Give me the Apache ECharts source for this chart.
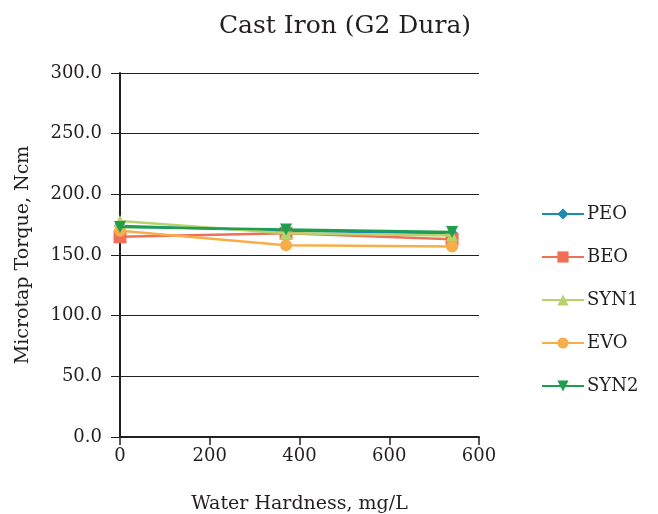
<!DOCTYPE html>
<html><head><meta charset="utf-8">
<script src="https://cdn.jsdelivr.net/npm/echarts@6/dist/echarts.min.js"></script>
<style>html,body{margin:0;padding:0;background:#fff}#c{width:658px;height:514px}</style>
</head><body><div id="c"></div>
<script>
const hardness = [0, 370, 740];
const xTickLabels = ['0', '200', '400', '600', '600'];
const PEO  = [174, 170, 168];
const BEO  = [165, 168, 163];
const SYN1 = [178, 168, 166];
const EVO  = [170, 158, 157];
const SYN2 = [173, 171, 169];
const seriesNames = ['PEO', 'BEO', 'SYN1', 'EVO', 'SYN2'];

const font = 'DejaVu Serif';
const txt = '#231f20';
const colors = ['#1b8bb0', '#ef6f57', '#b8d36b', '#f6ae4a', '#1f9e4f'];
const symbols = ['diamond', 'rect', 'triangle', 'circle', 'path://M0,0 L10,0 L5,9 Z'];
const dataSets = [PEO, BEO, SYN1, EVO, SYN2];

const chart = echarts.init(document.getElementById('c'));
chart.setOption({
  animation: false,
  backgroundColor: '#fff',
  title: {
    text: 'Cast Iron (G2 Dura)', left: 340, top: 9, textAlign: 'center',
    textStyle: { fontFamily: font, fontSize: 25, fontWeight: 'normal', color: txt }
  },
  legend: {
    orient: 'vertical', left: 536, top: 200, itemGap: 25,
    itemWidth: 42, itemHeight: 14,
    textStyle: { fontFamily: font, fontSize: 18, color: txt, padding: [0, 0, 0, -2] },
    data: seriesNames
  },
  grid: { left: 120, right: 179, top: 73, bottom: 77, containLabel: false, outerBoundsMode: 'none' },
  xAxis: {
    type: 'value', min: 0, max: 800, interval: 200,
    name: 'Water Hardness, mg/L', nameLocation: 'middle', nameGap: 58,
    nameTextStyle: { fontFamily: font, fontSize: 19, color: txt },
    axisLine: { onZero: false, lineStyle: { color: txt, width: 2 } },
    axisTick: { show: true, length: 8, lineStyle: { color: txt, width: 1.5 } },
    axisLabel: {
      fontFamily: font, fontSize: 18, color: txt, margin: 10,
      formatter: (v) => xTickLabels[Math.round(v / 200)]
    },
    splitLine: { show: false }
  },
  yAxis: {
    type: 'value', min: 0, max: 300, interval: 50,
    name: 'Microtap Torque, Ncm', nameLocation: 'middle', nameGap: 87,
    nameTextStyle: { fontFamily: font, fontSize: 19, color: txt },
    axisLine: { show: true, lineStyle: { color: txt, width: 2 } },
    axisTick: { show: true, length: 9, lineStyle: { color: txt, width: 1 } },
    axisLabel: {
      fontFamily: font, fontSize: 18, color: txt, margin: 18,
      formatter: (v) => v.toFixed(1)
    },
    splitLine: { show: true, lineStyle: { color: txt, width: 1 } }
  },
  series: seriesNames.map((n, i) => ({
    name: n, type: 'line',
    data: hardness.map((x, j) => [x, dataSets[i][j]]),
    color: colors[i],
    symbol: symbols[i], symbolSize: i === 1 ? 13 : 12,
    lineStyle: { width: 2.5, color: colors[i] },
    itemStyle: { color: colors[i] },
    z: 2 + i
  }))
});
</script></body></html>
